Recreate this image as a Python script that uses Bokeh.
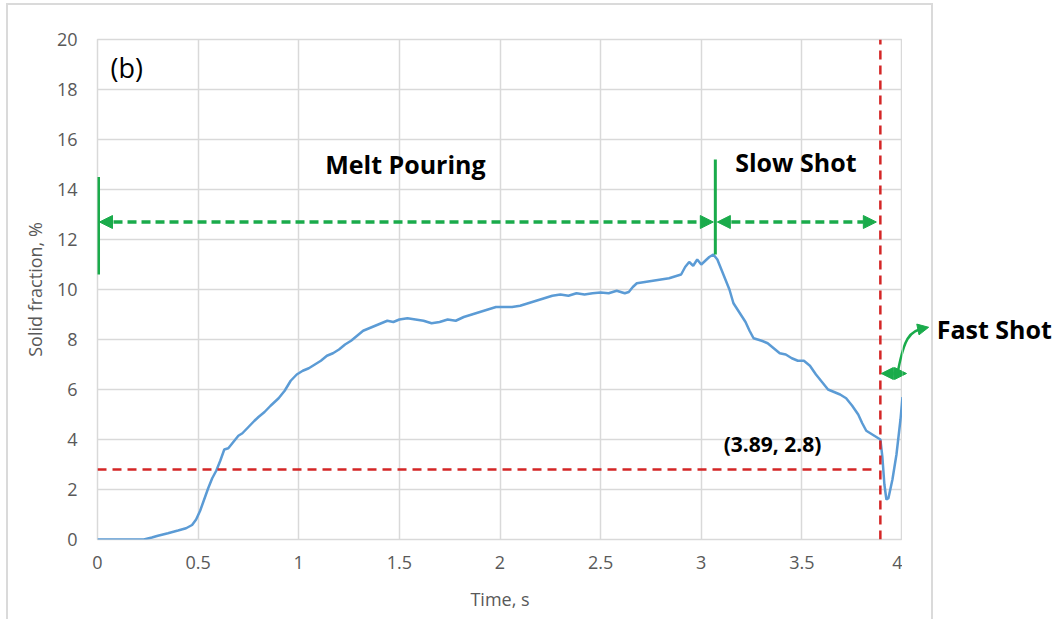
from bokeh.plotting import figure
from bokeh.layouts import row
from bokeh.models import Range1d, FixedTicker, Label, Arrow, NormalHead
from bokeh.embed import file_html
from bokeh.resources import INLINE

# ---- data ----
time_s = [0.00, 0.10, 0.20, 0.23, 0.27, 0.30, 0.35, 0.40, 0.44, 0.47, 0.49, 0.51, 0.53, 0.55,
          0.57, 0.59, 0.61, 0.63, 0.65, 0.67, 0.70, 0.72, 0.75, 0.78, 0.80, 0.83, 0.86, 0.90,
          0.93, 0.96, 0.99, 1.02, 1.05, 1.08, 1.11, 1.14, 1.17, 1.20, 1.23, 1.26, 1.29, 1.32,
          1.35, 1.38, 1.41, 1.44, 1.47, 1.50, 1.54, 1.58, 1.62, 1.66, 1.70, 1.74, 1.78, 1.82,
          1.86, 1.90, 1.94, 1.98, 2.02, 2.06, 2.10, 2.14, 2.18, 2.22, 2.26, 2.30, 2.34, 2.38,
          2.42, 2.46, 2.50, 2.54, 2.58, 2.62, 2.64, 2.66, 2.68, 2.72, 2.76, 2.80, 2.84, 2.88,
          2.90, 2.92, 2.94, 2.96, 2.98, 3.00, 3.02, 3.04, 3.06, 3.08, 3.10, 3.12, 3.14, 3.16,
          3.18, 3.20, 3.22, 3.24, 3.26, 3.28, 3.30, 3.33, 3.36, 3.39, 3.42, 3.45, 3.48, 3.51,
          3.54, 3.57, 3.60, 3.63, 3.66, 3.69, 3.72, 3.75, 3.78, 3.80, 3.82, 3.84, 3.86, 3.89,
          3.90, 3.91, 3.92, 3.93, 3.95, 3.97, 3.99, 4.00]
solid_fraction = [0.00, 0.00, 0.00, 0.00, 0.08, 0.15, 0.25, 0.36, 0.45, 0.58, 0.80, 1.15, 1.60, 2.05,
                  2.45, 2.75, 3.15, 3.60, 3.65, 3.85, 4.15, 4.25, 4.50, 4.75, 4.90, 5.10, 5.35, 5.65,
                  5.95, 6.35, 6.60, 6.75, 6.85, 7.00, 7.15, 7.35, 7.45, 7.60, 7.80, 7.95, 8.15, 8.35,
                  8.45, 8.55, 8.65, 8.75, 8.70, 8.80, 8.85, 8.80, 8.75, 8.65, 8.70, 8.80, 8.75, 8.90,
                  9.00, 9.10, 9.20, 9.30, 9.30, 9.30, 9.35, 9.45, 9.55, 9.65, 9.75, 9.80, 9.75, 9.85,
                  9.80, 9.85, 9.88, 9.85, 9.95, 9.85, 9.90, 10.10, 10.25, 10.30, 10.35, 10.40, 10.45, 10.55,
                  10.60, 10.90, 11.10, 10.95, 11.20, 11.00, 11.15, 11.30, 11.40, 11.20, 10.80, 10.40, 10.00, 9.45,
                  9.20, 8.95, 8.70, 8.35, 8.05, 8.00, 7.95, 7.85, 7.65, 7.45, 7.40, 7.25, 7.15, 7.15,
                  6.95, 6.60, 6.30, 6.00, 5.90, 5.80, 5.65, 5.35, 5.00, 4.65, 4.35, 4.25, 4.15, 4.00,
                  3.30, 2.20, 1.60, 1.65, 2.40, 3.40, 4.80, 5.70]

x_ticks = [0, 0.5, 1, 1.5, 2, 2.5, 3, 3.5, 4]
y_ticks = [0, 2, 4, 6, 8, 10, 12, 14, 16, 18, 20]
mark_t, mark_v = 3.89, 2.8          # (3.89, 2.8) marker lines
slow_start = 3.07                    # boundary melt pouring / slow shot
arrow_level = 12.7
fast_level = 6.64

FONT = "Open Sans"
GREEN = "#1AAB4B"
RED = "#D42626"
GRID = "#D9D9D9"

# main chart: frame 805 x 500 px  (201.25 px per second, 25 px per %)
p = figure(width=902, height=619, frame_width=805, frame_height=500,
           min_border_left=97, min_border_right=0, min_border_top=39, min_border_bottom=80,
           x_range=Range1d(0, 4), y_range=Range1d(0, 20),
           output_backend="svg", toolbar_location=None)
p.border_fill_color = None
p.background_fill_color = None
p.outline_line_color = GRID
p.outline_line_width = 1.5

for ax in (p.xaxis[0], p.yaxis[0]):
    ax.axis_line_color = None
    ax.major_tick_line_color = None
    ax.minor_tick_line_color = None
    ax.major_tick_out = 0
    ax.major_tick_in = 0
    ax.major_label_text_font = FONT
    ax.major_label_text_font_size = "18px"
    ax.major_label_text_color = "#595959"
    ax.axis_label_text_font = FONT
    ax.axis_label_text_font_size = "18px"
    ax.axis_label_text_color = "#595959"
    ax.axis_label_text_font_style = "normal"

p.xaxis.ticker = FixedTicker(ticks=x_ticks)
p.yaxis.ticker = FixedTicker(ticks=y_ticks)
p.xaxis.major_label_overrides = {0: "0", 0.5: "0.5", 1: "1", 1.5: "1.5", 2: "2", 2.5: "2.5",
                                 3: "3", 3.5: "3.5", 4: "4"}
p.xaxis.axis_label = "Time, s"
p.yaxis.axis_label = "Solid fraction, %"
p.xaxis.major_label_standoff = 16
p.yaxis.major_label_standoff = 20
p.xaxis.axis_label_standoff = 15
p.yaxis.axis_label_standoff = 7

p.xgrid.ticker = FixedTicker(ticks=x_ticks)
p.ygrid.ticker = FixedTicker(ticks=y_ticks)
for g in (p.xgrid[0], p.ygrid[0]):
    g.grid_line_color = GRID
    g.grid_line_width = 1.5

# right strip continuing the same data scales (for the "Fast Shot" callout)
strip_w = 157
p2 = figure(width=strip_w, height=619, frame_width=strip_w, frame_height=500,
            min_border_left=0, min_border_right=0, min_border_top=39, min_border_bottom=80,
            x_axis_type=None, y_axis_type=None,
            x_range=Range1d(4, 4 + strip_w / 201.25), y_range=Range1d(0, 20),
            output_backend="svg", toolbar_location=None)
p2.border_fill_color = None
p2.background_fill_color = None
p2.outline_line_color = None
p2.xgrid.visible = False
p2.ygrid.visible = False

# curve
p.line(time_s, solid_fraction, line_color="#5B9BD5", line_width=2.5)

# red dashed marker lines
p.segment(x0=[0, mark_t], y0=[mark_v, 0], x1=[mark_t - 0.02, mark_t], y1=[mark_v, 20],
          line_color=RED, line_width=2.5, line_dash="9 6")

# green boundary lines
p.segment(x0=[0.005, slow_start], y0=[10.6, 11.4], x1=[0.005, slow_start], y1=[14.5, 15.2],
          line_color=GREEN, line_width=3)

def head(size):
    return NormalHead(size=size, fill_color=GREEN, line_color=GREEN, line_width=1)

def dbl_arrow(fig, x0, x1, y, dash="9 5", size=13, width=3.5):
    fig.add_layout(Arrow(x_start=x0, y_start=y, x_end=x1, y_end=y,
                         line_color=GREEN, line_width=width, line_dash=dash,
                         start=head(size), end=head(size)))

dbl_arrow(p, 0.01, slow_start - 0.01, arrow_level)
dbl_arrow(p, slow_start + 0.01, mark_t - 0.02, arrow_level)
for fig in (p, p2):
    dbl_arrow(fig, mark_t + 0.005, 4.02, fast_level, dash="solid", size=12, width=3.5)
    # curved pointer towards the "Fast Shot" label
    fig.bezier(x0=[3.978], y0=[6.76], x1=[4.115], y1=[8.44],
               cx0=[4.005], cy0=[7.9], cx1=[4.03], cy1=[8.42],
               line_color=GREEN, line_width=2.5)

p2.add_layout(Arrow(x_start=4.10, y_start=8.44, x_end=4.13, y_end=8.49,
                    line_color=GREEN, line_width=2.5, end=head(11)))

# texts
def lab(fig, x, y, text, size, bold=True, align="center"):
    fig.add_layout(Label(x=x, y=y, text=text, text_font=FONT, text_font_size=size,
                         text_font_style="bold" if bold else "normal", text_color="black",
                         text_align=align, text_baseline="middle"))

lab(p, 1.53, 15.04, "Melt Pouring", "25px")
lab(p, 3.47, 15.12, "Slow Shot", "25px")
lab(p, 3.354, 3.84, "(3.89, 2.8)", "21px")
lab(p, 0.065, 18.88, "(b)", "27px", bold=False, align="left")
lab(p2, 4.17, 8.44, "Fast Shot", "25px", align="left")

border = "#DADADA"
layout = row(p, p2, spacing=0, styles={
    "background-image": "linear-gradient(%s,%s),linear-gradient(%s,%s),linear-gradient(%s,%s)"
                        % ((border,) * 6),
    "background-size": "2px 620px, 926px 2px, 2px 620px",
    "background-position": "6px 3px, 6px 3px, 931px 3px",
    "background-repeat": "no-repeat",
})

open("out.html", "w").write(file_html(layout, INLINE))
